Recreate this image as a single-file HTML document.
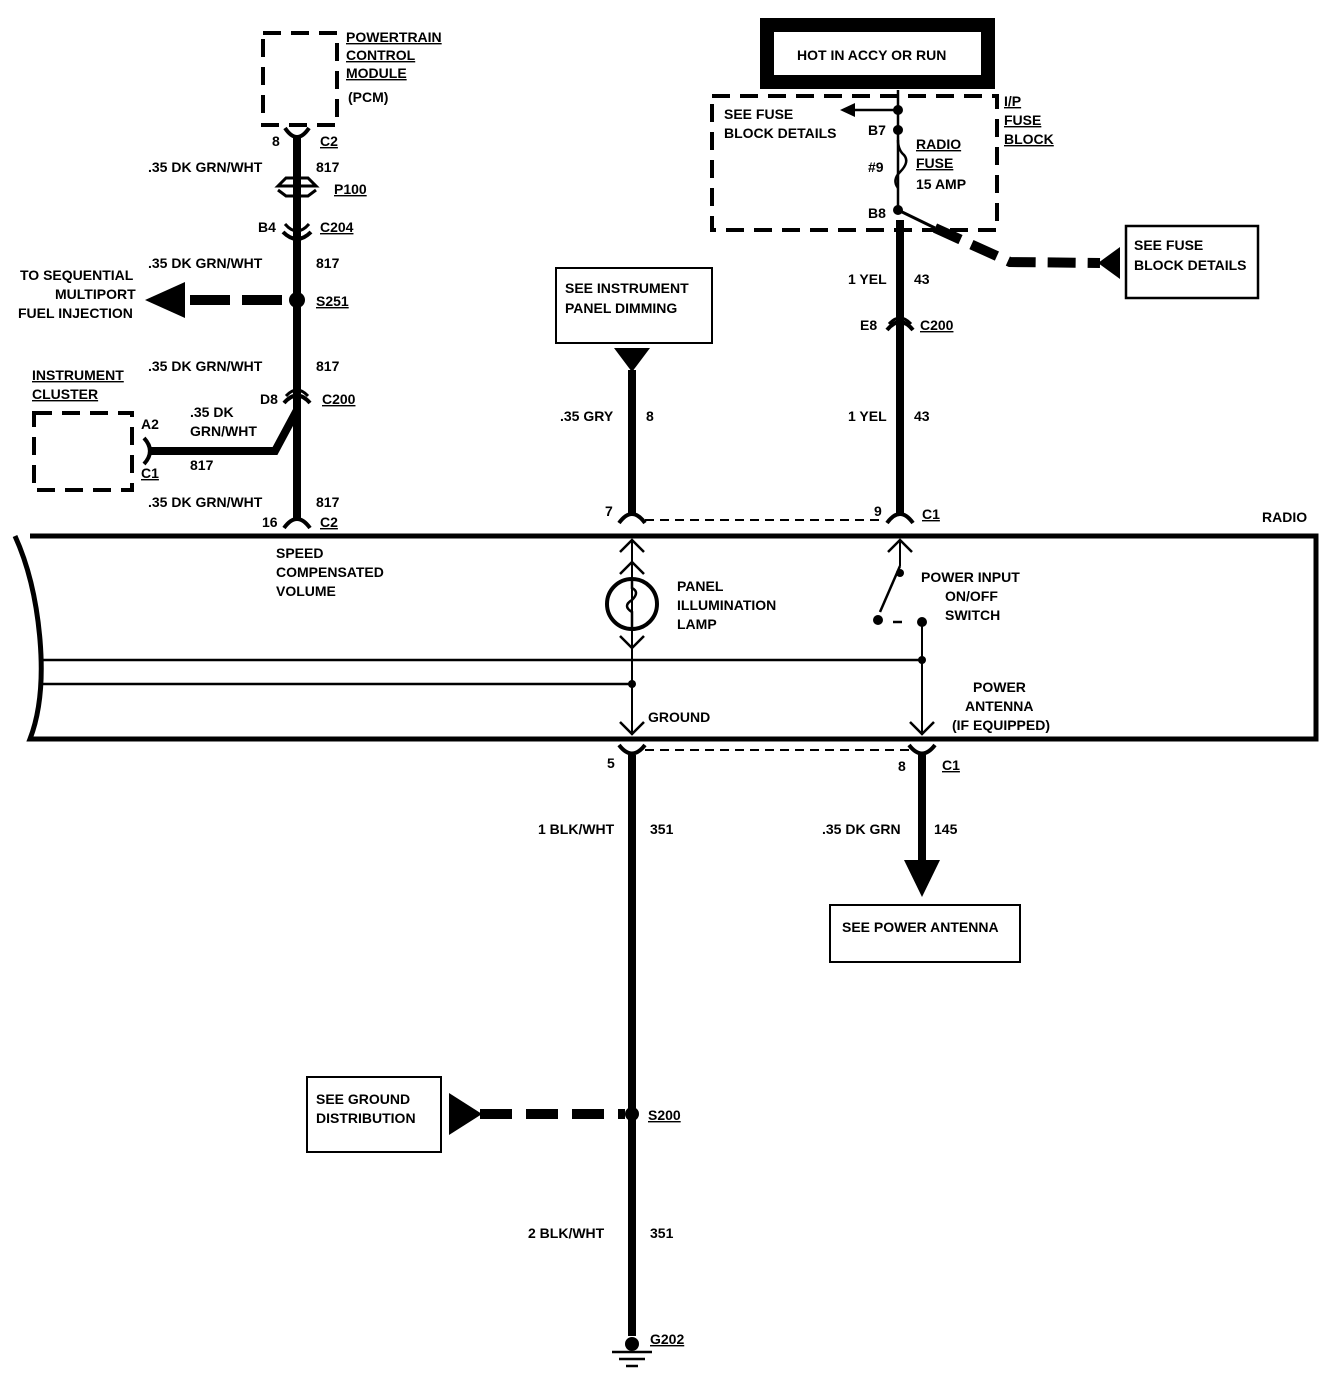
<!DOCTYPE html>
<html><head><meta charset="utf-8"><style>
html,body{margin:0;padding:0;background:#fff}
svg{display:block}
text{font-family:"Liberation Sans",sans-serif;font-weight:bold;font-size:14px;fill:#000}
.u{text-decoration:underline}
</style></head><body>
<svg width="1344" height="1376" viewBox="0 0 1344 1376" xmlns="http://www.w3.org/2000/svg">
<g fill="none" stroke="#000">
<rect x="263" y="33" width="74" height="92" stroke-width="4" stroke-dasharray="18,10"/>
<line x1="297" y1="138" x2="297" y2="518" stroke-width="8"/>
<path d="M285,128 Q297,146 309,128" stroke-width="4"/>
<path d="M283,232 Q297,246 311,232" stroke-width="4"/>
<path d="M285,224 Q297,238 309,224" stroke-width="3"/>
<path d="M284,403 Q297,388 310,403" stroke-width="4"/>
<path d="M286,396 Q297,384 308,396" stroke-width="3"/>
<path d="M284,528 Q297,510 310,528" stroke-width="4"/>
<path d="M278,186 L286,178 L308,178 L316,186 Z" stroke-width="3"/>
<path d="M278,190 L286,196 L308,196 L316,190" stroke-width="3"/>
<path d="M150,451 L275,451 L297,410" stroke-width="8"/>
<path d="M144,438 Q156,451 144,464" stroke-width="4"/>
<rect x="34" y="413" width="98" height="77" stroke-width="4" stroke-dasharray="18,10"/>
<line x1="190" y1="300" x2="290" y2="300" stroke-width="10" stroke-dasharray="40,12"/>
<path d="M30,536 L1316,536 L1316,739 L30,739 Q45,700 40,640 Q35,580 15,536" stroke-width="5"/>
<line x1="42" y1="660" x2="922" y2="660" stroke-width="2.5"/>
<line x1="42" y1="684" x2="633" y2="684" stroke-width="2.5"/>
<line x1="632" y1="370" x2="632" y2="514" stroke-width="8"/>
<path d="M619,523 Q632,505 645,523" stroke-width="4"/>
<rect x="556" y="268" width="156" height="75" stroke-width="2"/>
<line x1="645" y1="520" x2="885" y2="520" stroke-width="2" stroke-dasharray="9,6"/>
<line x1="900" y1="220" x2="900" y2="514" stroke-width="8"/>
<path d="M887,523 Q900,505 913,523" stroke-width="4"/>
<path d="M887,330 Q900,314 913,330" stroke-width="4"/>
<path d="M889,324 Q900,312 911,324" stroke-width="3"/>
<rect x="712" y="96" width="285" height="134" stroke-width="4" stroke-dasharray="18,10"/>
<rect x="767" y="25" width="221" height="57" stroke-width="14"/>
<line x1="898" y1="90" x2="898" y2="210" stroke-width="2.5"/>
<path d="M898,110 L850,110" stroke-width="2.5"/>
<path d="M898,140 Q898,150 904,155 Q910,162 900,172 Q892,180 898,188" stroke-width="2.5"/>
<path d="M898,210 L935,228" stroke-width="3"/>
<path d="M935,228 L1010,262 L1100,263" stroke-width="10" stroke-dasharray="28,12"/>
<rect x="1126" y="226" width="132" height="72" stroke-width="2.5"/>
<line x1="632" y1="540" x2="632" y2="735" stroke-width="2"/>
<path d="M620,552 L632,540 L644,552 M620,574 L632,562 L644,574" stroke-width="2.5"/>
<circle cx="632" cy="604" r="25" stroke-width="4"/>
<path d="M632,580 L632,588 Q640,592 632,600 Q622,606 632,612 L632,628" stroke-width="2.5"/>
<path d="M620,636 L632,648 L644,636" stroke-width="2.5"/>
<path d="M620,722 L632,734 L644,722" stroke-width="2.5"/>
<line x1="900" y1="540" x2="900" y2="566" stroke-width="2"/>
<path d="M888,552 L900,540 L912,552" stroke-width="2.5"/>
<path d="M900,566 L880,612" stroke-width="2.5"/>
<line x1="893" y1="622" x2="902" y2="622" stroke-width="2.5"/>
<line x1="922" y1="622" x2="922" y2="735" stroke-width="2"/>
<path d="M910,722 L922,734 L934,722" stroke-width="2.5"/>
<path d="M619,745 Q632,762 645,745" stroke-width="4"/>
<path d="M909,745 Q922,762 935,745" stroke-width="4"/>
<line x1="645" y1="750" x2="910" y2="750" stroke-width="2" stroke-dasharray="9,6"/>
<line x1="632" y1="755" x2="632" y2="1336" stroke-width="8"/>
<line x1="922" y1="755" x2="922" y2="862" stroke-width="8"/>
<rect x="830" y="905" width="190" height="57" stroke-width="2"/>
<rect x="307" y="1077" width="134" height="75" stroke-width="2"/>
<line x1="480" y1="1114" x2="625" y2="1114" stroke-width="10" stroke-dasharray="32,14"/>
<line x1="612" y1="1352" x2="652" y2="1352" stroke-width="2.5"/>
<line x1="619" y1="1359" x2="645" y2="1359" stroke-width="2.5"/>
<line x1="626" y1="1366" x2="638" y2="1366" stroke-width="2.5"/>
</g>
<g fill="#000">
<circle cx="297" cy="300" r="8"/>
<polygon points="145,300 185,282 185,318"/>
<polygon points="614,348 650,348 632,372"/>
<circle cx="898" cy="110" r="5"/>
<circle cx="898" cy="130" r="5"/>
<circle cx="898" cy="210" r="5"/>
<polygon points="840,110 855,103 855,117"/>
<polygon points="1098,263 1120,247 1120,279"/>
<circle cx="632" cy="684" r="4"/>
<circle cx="922" cy="660" r="4"/>
<circle cx="922" cy="622" r="5"/>
<circle cx="878" cy="620" r="5"/>
<circle cx="900" cy="573" r="4"/>
<polygon points="904,860 940,860 922,897"/>
<polygon points="449,1093 449,1135 482,1114"/>
<circle cx="632" cy="1114" r="7"/>
<circle cx="632" cy="1344" r="7"/>
</g>
<text x="346" y="42" class="u" font-size="13">POWERTRAIN</text>
<text x="346" y="60" class="u" font-size="13">CONTROL</text>
<text x="346" y="78" class="u" font-size="13">MODULE</text>
<text x="348" y="102" font-size="13">(PCM)</text>
<text x="272" y="146">8</text><text x="320" y="146" class="u">C2</text>
<text x="148" y="172">.35  DK  GRN/WHT</text><text x="316" y="172">817</text>
<text x="334" y="194" class="u">P100</text>
<text x="258" y="232">B4</text><text x="320" y="232" class="u">C204</text>
<text x="148" y="268">.35  DK  GRN/WHT</text><text x="316" y="268">817</text>
<text x="20" y="280">TO  SEQUENTIAL</text>
<text x="55" y="299">MULTIPORT</text>
<text x="18" y="318">FUEL  INJECTION</text>
<text x="316" y="306" class="u">S251</text>
<text x="148" y="371">.35  DK  GRN/WHT</text><text x="316" y="371">817</text>
<text x="32" y="380" class="u">INSTRUMENT</text>
<text x="32" y="399" class="u">CLUSTER</text>
<text x="260" y="404">D8</text><text x="322" y="404" class="u">C200</text>
<text x="190" y="417">.35  DK</text>
<text x="190" y="436">GRN/WHT</text>
<text x="141" y="429">A2</text>
<text x="141" y="478" class="u">C1</text>
<text x="190" y="470">817</text>
<text x="148" y="507">.35  DK  GRN/WHT</text><text x="316" y="507">817</text>
<text x="262" y="527">16</text><text x="320" y="527" class="u">C2</text>
<text x="276" y="558">SPEED</text>
<text x="276" y="577">COMPENSATED</text>
<text x="276" y="596">VOLUME</text>
<text x="565" y="293">SEE INSTRUMENT</text>
<text x="565" y="313">PANEL DIMMING</text>
<text x="560" y="421">.35 GRY</text><text x="646" y="421">8</text>
<text x="605" y="516">7</text>
<text x="874" y="516">9</text><text x="922" y="519" class="u">C1</text>
<text x="1262" y="522">RADIO</text>
<text x="677" y="591">PANEL</text>
<text x="677" y="610">ILLUMINATION</text>
<text x="677" y="629">LAMP</text>
<text x="921" y="582">POWER INPUT</text>
<text x="945" y="601">ON/OFF</text>
<text x="945" y="620">SWITCH</text>
<text x="973" y="692">POWER</text>
<text x="965" y="711">ANTENNA</text>
<text x="952" y="730">(IF EQUIPPED)</text>
<text x="648" y="722">GROUND</text>
<text x="797" y="60">HOT IN ACCY OR RUN</text>
<text x="724" y="119">SEE FUSE</text>
<text x="724" y="138">BLOCK DETAILS</text>
<text x="868" y="135">B7</text>
<text x="868" y="172">#9</text>
<text x="868" y="218">B8</text>
<text x="916" y="149" class="u">RADIO</text>
<text x="916" y="168" class="u">FUSE</text>
<text x="916" y="189">15  AMP</text>
<text x="1004" y="106" class="u">I/P</text>
<text x="1004" y="125" class="u">FUSE</text>
<text x="1004" y="144" class="u">BLOCK</text>
<text x="1134" y="250">SEE  FUSE</text>
<text x="1134" y="270">BLOCK DETAILS</text>
<text x="848" y="284">1 YEL</text><text x="914" y="284">43</text>
<text x="860" y="330">E8</text><text x="920" y="330" class="u">C200</text>
<text x="848" y="421">1 YEL</text><text x="914" y="421">43</text>
<text x="607" y="768">5</text>
<text x="898" y="771">8</text><text x="942" y="770" class="u">C1</text>
<text x="538" y="834">1 BLK/WHT</text><text x="650" y="834">351</text>
<text x="822" y="834">.35 DK GRN</text><text x="934" y="834">145</text>
<text x="842" y="932">SEE POWER ANTENNA</text>
<text x="316" y="1104">SEE GROUND</text>
<text x="316" y="1123">DISTRIBUTION</text>
<text x="648" y="1120" class="u">S200</text>
<text x="528" y="1238">2  BLK/WHT</text><text x="650" y="1238">351</text>
<text x="650" y="1344" class="u">G202</text>
</svg>
</body></html>
